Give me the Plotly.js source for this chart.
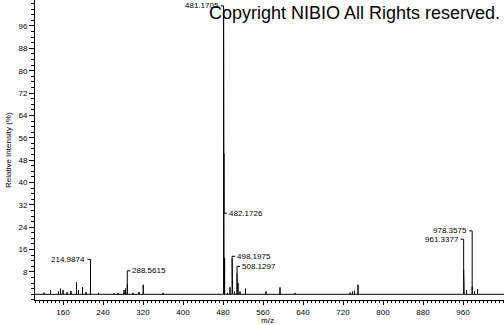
<!DOCTYPE html>
<html><head>
<script src="https://cdn.plot.ly/plotly-3.0.1.min.js"></script>
<style>body{margin:0;background:#fff}</style>
</head><body>
<div id="c" style="width:504px;height:325px"></div>
<script>
// Peaks (m/z, relative intensity %)
const peakMz  = [122, 135, 151, 155, 160, 168, 176, 187, 191, 199, 206, 214.9874, 231, 262, 270, 282, 285, 288.5615, 300, 312, 320.5, 360,
                 481.1705, 482.1726, 483.17, 489, 494, 498.1975, 499.2, 503, 508.1297, 510, 514, 525, 566, 594, 624,
                 734, 739, 743, 750, 961.3377, 962.34, 967, 978.3575, 983, 989];
const peakInt = [0.6, 1.5, 1.0, 2.0, 1.5, 0.7, 1.2, 4.3, 1.5, 2.6, 0.8, 4.7, 0.5, 0.4, 0.5, 1.5, 2.0, 3.6, 0.5, 0.8, 3.4, 0.5,
                 100, 50.4, 13.0, 0.5, 2.5, 12.8, 6.0, 1.0, 7.4, 4.0, 1.0, 2.0, 1.0, 2.5, 0.5,
                 0.6, 1.0, 1.3, 3.4, 8.7, 2.5, 1.4, 2.9, 1.0, 1.9];
// Labelled peaks
const labelText = ["214.9874", "288.5615", "481.1705", "482.1726", "498.1975", "508.1297", "961.3377", "978.3575"];
const labelMz   = [214.9874, 288.5615, 481.1705, 482.1726, 498.1975, 508.1297, 961.3377, 978.3575];
const labelPeak = [4.7, 3.6, 100, 50.4, 12.8, 7.4, 8.7, 2.9];
const labelY    = [12.5, 8.4, 103.2, 29, 13.6, 10, 19.7, 22.7];
const labelSide = ["left", "right", "left", "right", "right", "right", "left", "left"];
const xTicks = [160, 240, 320, 400, 480, 560, 640, 720, 800, 880, 960];
const yTicks = [8, 16, 24, 32, 40, 48, 56, 64, 72, 80, 88, 96];
const xRange = [104, 1042];
const yRange = [-2.04, 105.3];

// spectrum polyline
const sx = [xRange[0]], sy = [0];
peakMz.forEach((m, i) => { sx.push(m, m, m); sy.push(0, peakInt[i], 0); });
sx.push(xRange[1]); sy.push(0);

// leaders
const TICK = 6;
const lx = [], ly = [];
labelMz.forEach((m, i) => {
  const d = labelSide[i] === "left" ? -TICK : TICK;
  lx.push(m, m, m + d, null);
  ly.push(labelPeak[i], labelY[i], labelY[i], null);
});

const annotations = labelMz.map((m, i) => ({
  x: m + (labelSide[i] === "left" ? -TICK : TICK), y: labelY[i], xref: "x", yref: "y",
  text: labelText[i], showarrow: false,
  xanchor: labelSide[i] === "left" ? "right" : "left", yanchor: "middle",
  font: {family: "Liberation Sans, Arial, sans-serif", size: 8, color: "#000"}
}));
annotations.push({
  xref: "paper", yref: "paper", x: (207 - 35) / 469, y: 1 - 13 / 300, xanchor: "left", yanchor: "middle",
  text: "Copyright NIBIO All Rights reserved.", showarrow: false,
  font: {family: "Liberation Sans, Arial, sans-serif", size: 18, color: "#000"}
});
annotations.push({
  xref: "paper", yref: "paper", x: (8 - 35) / 469, y: 0.5, xanchor: "center", yanchor: "middle",
  text: "Relative Intensity (%)", textangle: -90, showarrow: false,
  font: {family: "Liberation Sans, Arial, sans-serif", size: 8, color: "#000"}
});
annotations.push({
  xref: "paper", yref: "paper", x: (267 - 35) / 469, y: -(320 - 300) / 300, xanchor: "center", yanchor: "middle",
  text: "m/z", showarrow: false,
  font: {family: "Liberation Sans, Arial, sans-serif", size: 8, color: "#000"}
});

const tickFont = {family: "Liberation Sans, Arial, sans-serif", size: 8, color: "#000"};
Plotly.newPlot("c", [
  {x: sx, y: sy, type: "scatter", mode: "lines", line: {color: "#000", width: 1}, hoverinfo: "skip"},
  {x: lx, y: ly, type: "scatter", mode: "lines", line: {color: "#000", width: 1}, hoverinfo: "skip"}
], {
  width: 504, height: 325,
  margin: {l: 35, r: 0, t: 0, b: 25, pad: 0},
  paper_bgcolor: "#fff", plot_bgcolor: "#fff",
  showlegend: false,
  xaxis: {range: xRange, tickmode: "array", tickvals: xTicks, ticks: "outside", ticklen: 4, tickcolor: "#000",
          showline: true, linecolor: "#000", linewidth: 1, showgrid: false, zeroline: false, tickfont: tickFont,
          minor: {dtick: 8, tick0: 0, ticks: "outside", ticklen: 2, tickcolor: "#000", showgrid: false}},
  yaxis: {range: yRange, tickmode: "array", tickvals: yTicks, ticks: "outside", ticklen: 5, tickcolor: "#000",
          showline: true, linecolor: "#000", linewidth: 1, showgrid: false, zeroline: false, tickfont: tickFont,
          minor: {dtick: 2, tick0: 0, ticks: "outside", ticklen: 3, tickcolor: "#000", showgrid: false}},
  annotations: annotations
}, {displayModeBar: false, staticPlot: true});
</script>
</body></html>
